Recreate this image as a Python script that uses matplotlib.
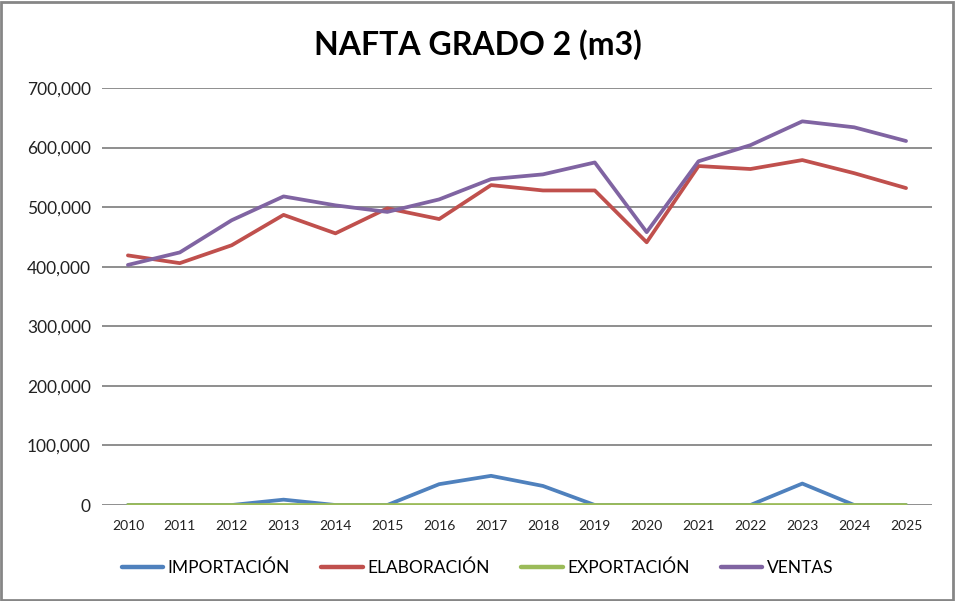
import matplotlib.pyplot as plt
from matplotlib.ticker import FuncFormatter

plt.rcParams['font.family'] = ['Lato', 'DejaVu Sans']

years = ["2010", "2011", "2012", "2013", "2014", "2015", "2016", "2017",
         "2018", "2019", "2020", "2021", "2022", "2023", "2024", "2025"]

importacion = [0, 0, 0, 9000, 0, 0, 35000, 49000, 32000, 0, 0, 0, 0, 36000, 0, 0]
elaboracion = [419000, 406000, 436000, 487000, 456000, 498000, 480000, 537000,
               528000, 528000, 441000, 569000, 564000, 579000, 557000, 532000]
exportacion = [0] * 16
ventas = [403000, 424000, 478000, 518000, 503000, 492000, 513000, 547000,
          555000, 575000, 458000, 577000, 604000, 644000, 634000, 611000]

series = [
    ("IMPORTACIÓN", importacion, "#4F81BD"),
    ("ELABORACIÓN", elaboracion, "#C0504D"),
    ("EXPORTACIÓN", exportacion, "#9BBB59"),
    ("VENTAS", ventas, "#8064A2"),
]

fig = plt.figure(figsize=(9.55, 6.01), dpi=100)
ax = fig.add_axes([0.1068, 0.1597, 0.8691, 0.6939])

x = list(range(len(years)))
for name, vals, color in series:
    ax.plot(x, vals, color=color, linewidth=2.7, label=name,
            solid_joinstyle='round', solid_capstyle='round')

ax.set_xlim(-0.5, len(years) - 0.5)
ax.set_ylim(0, 700000)
ax.set_yticks(range(0, 700001, 100000))
ax.yaxis.set_major_formatter(FuncFormatter(lambda v, p: f"{int(v):,}"))
ax.set_xticks(x)
ax.set_xticklabels(years)
ax.tick_params(axis='y', labelsize=12.5, length=0, pad=8, colors='#222222')
ax.tick_params(axis='x', labelsize=10, length=0, pad=11, colors='#222222')

ax.grid(axis='y', color='#868686', linewidth=1.3)
ax.set_axisbelow(True)
for s in ax.spines.values():
    s.set_visible(False)

fig.text(0.5, 0.925, "NAFTA GRADO 2 (m3)", ha='center', va='center',
         fontsize=23, fontweight='bold')

leg = fig.legend(loc='center', bbox_to_anchor=(0.5, 0.055), ncol=4, frameon=False,
                 fontsize=12.5, handlelength=2.4, handletextpad=0.25,
                 columnspacing=1.8)
for line in leg.get_lines():
    line.set_linewidth(3.2)

border = plt.Rectangle((0.001, 0.001), 0.997, 0.996, transform=fig.transFigure,
                       fill=False, edgecolor='#868686', linewidth=2)
fig.patches.append(border)

fig.savefig("out.png", dpi=100)
